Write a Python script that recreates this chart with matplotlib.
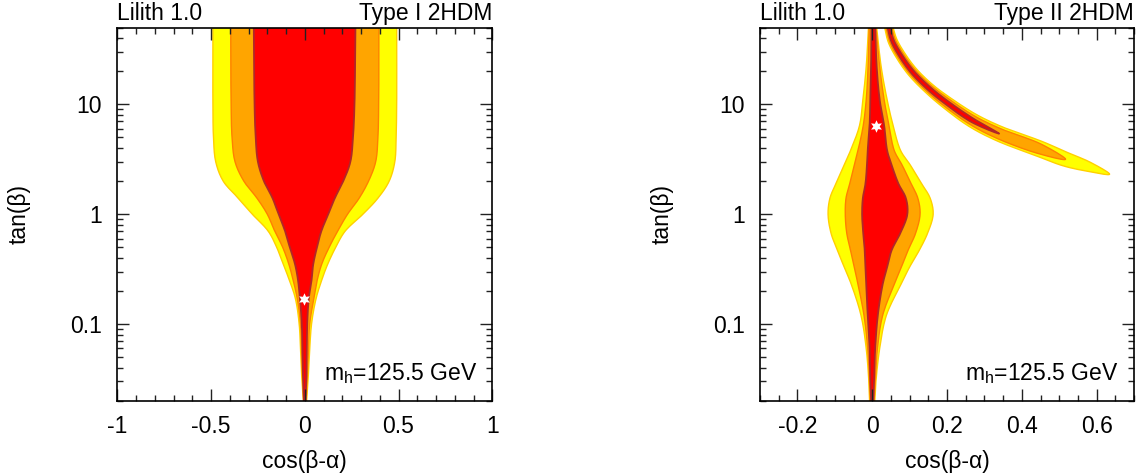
import numpy as np
import matplotlib
matplotlib.use('Agg')
import matplotlib.pyplot as plt
from matplotlib.ticker import FixedLocator, FixedFormatter, MultipleLocator, LogLocator, NullFormatter

plt.rcParams['font.family'] = ['Liberation Sans', 'DejaVu Sans']
plt.rcParams['axes.unicode_minus'] = False
plt.rcParams['mathtext.fontset'] = 'custom'
plt.rcParams['mathtext.rm'] = 'Liberation Sans'
plt.rcParams['mathtext.it'] = 'Liberation Sans:italic'

# ---------------- data ----------------
# Type I 2HDM: boundaries of the allowed regions, cos(beta-alpha) vs tan(beta)
t_I   = [0.02, 0.03, 0.05, 0.10, 0.17, 0.25, 0.35, 0.50, 0.70, 1.00, 1.40, 2.00, 3.00, 5.00, 10.0, 50.0]
yI_lo = [-0.008, -0.015, -0.021, -0.030, -0.050, -0.082, -0.115, -0.150, -0.195, -0.280, -0.355, -0.435, -0.475, -0.487, -0.490, -0.490]
yI_hi = [0.010, 0.017, 0.024, 0.036, 0.060, 0.090, 0.122, 0.165, 0.215, 0.310, 0.390, 0.450, 0.480, 0.487, 0.490, 0.490]
oI_lo = [-0.006, -0.011, -0.016, -0.023, -0.040, -0.062, -0.085, -0.118, -0.160, -0.200, -0.255, -0.325, -0.372, -0.388, -0.393, -0.395]
oI_hi = [0.007, 0.012, 0.018, 0.026, 0.048, 0.066, 0.090, 0.130, 0.175, 0.228, 0.290, 0.340, 0.378, 0.390, 0.394, 0.395]
rI_lo = [-0.005, -0.009, -0.012, -0.016, -0.026, -0.036, -0.052, -0.080, -0.105, -0.140, -0.172, -0.218, -0.250, -0.262, -0.268, -0.272]
rI_hi = [0.004, 0.008, 0.010, 0.013, 0.021, 0.036, 0.045, 0.065, 0.088, 0.125, 0.160, 0.205, 0.243, 0.257, 0.265, 0.270]
best_I = (-0.005, 0.17)

# Type II 2HDM: central lobe
t_II   = [0.02, 0.03, 0.06, 0.12, 0.23, 0.33, 0.47, 0.67, 1.0, 1.4, 1.9, 2.8, 3.8, 6.4, 11.0, 22.0, 50.0]
yII_lo = [-0.007, -0.009, -0.016, -0.030, -0.056, -0.075, -0.093, -0.110, -0.118, -0.113, -0.097, -0.075, -0.058, -0.034, -0.025, -0.016, -0.010]
yII_hi = [0.007, 0.010, 0.020, 0.038, 0.077, 0.100, 0.126, 0.148, 0.163, 0.155, 0.132, 0.102, 0.076, 0.056, 0.040, 0.024, 0.012]
oII_lo = [-0.005, -0.007, -0.012, -0.022, -0.038, -0.048, -0.058, -0.068, -0.072, -0.070, -0.060, -0.048, -0.038, -0.024, -0.016, -0.011, -0.008]
oII_hi = [0.005, 0.008, 0.014, 0.028, 0.059, 0.078, 0.096, 0.116, 0.128, 0.122, 0.104, 0.080, 0.059, 0.045, 0.032, 0.020, 0.010]
rII_lo = [-0.003, -0.005, -0.007, -0.012, -0.016, -0.018, -0.020, -0.024, -0.027, -0.025, -0.018, -0.014, -0.012, -0.007, -0.005, -0.003, -0.002]
rII_hi = [0.003, 0.005, 0.008, 0.015, 0.028, 0.040, 0.052, 0.075, 0.094, 0.090, 0.070, 0.052, 0.040, 0.032, 0.020, 0.012, 0.008]
best_II = (0.010, 6.4)

# Type II 2HDM: wrong-sign arc (inner = lower-left edge, outer = upper-right edge, top -> tip)
arcY_in_x  = [0.0324, 0.0430, 0.0660, 0.0981, 0.1434, 0.1878, 0.2588, 0.3315, 0.4386, 0.5110, 0.5754, 0.6347]
arcY_in_t  = [52.2, 36.9, 26.2, 18.4, 12.8, 9.49, 6.31, 4.69, 3.40, 2.755, 2.462, 2.311]
arcY_out_x = [0.0530, 0.0653, 0.0876, 0.1184, 0.1622, 0.2069, 0.2778, 0.3474, 0.4537, 0.5236, 0.5835, 0.6347]
arcY_out_t = [54.6, 39.6, 29.1, 21.05, 15.09, 11.61, 8.12, 6.255, 4.607, 3.629, 2.967, 2.311]
arcO_in_x  = [0.0357, 0.0467, 0.0696, 0.1014, 0.1464, 0.1906, 0.2618, 0.3339, 0.4413, 0.517]
arcO_in_t  = [52.6, 37.3, 26.6, 18.8, 13.13, 9.78, 6.56, 4.90, 3.59, 3.162]
arcO_out_x = [0.0496, 0.0616, 0.0840, 0.1151, 0.1592, 0.2040, 0.2748, 0.3450, 0.4510, 0.517]
arcO_out_t = [54.2, 39.1, 28.6, 20.6, 14.70, 11.26, 7.80, 5.98, 4.36, 3.162]
arcR_in_x  = [0.0393, 0.0504, 0.0730, 0.1046, 0.1494, 0.1942, 0.2655, 0.3395]
arcR_in_t  = [53.0, 37.7, 27.1, 19.19, 13.49, 10.15, 6.90, 5.416]
arcR_out_x = [0.0460, 0.0578, 0.0806, 0.1119, 0.1562, 0.2005, 0.2710, 0.3395]
arcR_out_t = [53.8, 38.6, 28.1, 20.15, 14.31, 10.85, 7.42, 5.416]

xlim_I, xlim_II = (-1.0, 1.0), (-0.3, 0.7)
ylim = (0.02, 50)

FACE = {'y': '#ffff00', 'o': '#ffa500', 'r': '#ff0000'}
EDGE = {'y': '#ffd000', 'o': '#ff8000', 'r': '#b02828'}
FS = 16.5


def smooth(xs, ts, xscale, n=10):
    """centripetal Catmull-Rom through the points, computed in (x, log t) display-like units"""
    P = np.column_stack([np.asarray(xs, float) * xscale, np.log10(np.asarray(ts, float)) * 110.0])
    if len(P) < 3:
        return np.asarray(xs, float), np.asarray(ts, float)
    P = np.vstack([2 * P[0] - P[1], P, 2 * P[-1] - P[-2]])
    out = []
    for i in range(1, len(P) - 2):
        p0, p1, p2, p3 = P[i - 1], P[i], P[i + 1], P[i + 2]

        def d(a, b):
            return max(np.hypot(*(b - a)) ** 0.5, 1e-6)
        s0 = 0.0
        s1 = s0 + d(p0, p1)
        s2 = s1 + d(p1, p2)
        s3 = s2 + d(p2, p3)
        for s in np.linspace(s1, s2, n, endpoint=False):
            A1 = (s1 - s) / (s1 - s0) * p0 + (s - s0) / (s1 - s0) * p1
            A2 = (s2 - s) / (s2 - s1) * p1 + (s - s1) / (s2 - s1) * p2
            A3 = (s3 - s) / (s3 - s2) * p2 + (s - s2) / (s3 - s2) * p3
            B1 = (s2 - s) / (s2 - s0) * A1 + (s - s0) / (s2 - s0) * A2
            B2 = (s3 - s) / (s3 - s1) * A2 + (s - s1) / (s3 - s1) * A3
            out.append((s2 - s) / (s2 - s1) * B1 + (s - s1) / (s2 - s1) * B2)
    out.append(P[-2])
    out = np.array(out)
    return out[:, 0] / xscale, 10 ** (out[:, 1] / 110.0)


def lobe(ax, t, lo, hi, key, xscale):
    xl, tl = smooth(lo, t, xscale)
    xr, tr = smooth(hi, t, xscale)
    ax.fill(np.concatenate([xl, xr[::-1]]), np.concatenate([tl, tr[::-1]]),
            facecolor=FACE[key], edgecolor='none', zorder=1)
    lw = 1.3 if key == 'r' else 1.0
    ax.plot(xl, tl, color=EDGE[key], lw=lw, zorder=1.5)
    ax.plot(xr, tr, color=EDGE[key], lw=lw, zorder=1.5)


def arc(ax, xin, tin, xout, tout, key, xscale):
    xs = list(xin) + list(xout[::-1])[1:]
    ts = list(tin) + list(tout[::-1])[1:]
    x, t = smooth(xs, ts, xscale)
    ax.fill(x, t, facecolor=FACE[key], edgecolor='none', zorder=1)
    lw = 1.2 if key == 'r' else 1.0
    ax.plot(x, t, color=EDGE[key], lw=lw, zorder=1.5)


def style(ax, xlim, xmaj, xmin, xlabels, left_title, right_title):
    ax.set_yscale('log')
    ax.set_xlim(*xlim)
    ax.set_ylim(*ylim)
    ax.xaxis.set_major_locator(FixedLocator(xmaj))
    ax.xaxis.set_major_formatter(FixedFormatter(xlabels))
    ax.xaxis.set_minor_locator(MultipleLocator(xmin))
    ax.yaxis.set_major_locator(FixedLocator([0.1, 1, 10]))
    ax.yaxis.set_major_formatter(FixedFormatter(['0.1', '1', '10']))
    ax.yaxis.set_minor_locator(LogLocator(base=10, subs=np.arange(2, 10), numticks=20))
    ax.yaxis.set_minor_formatter(NullFormatter())
    ax.tick_params(which='both', direction='in', top=True, right=True, color='#222222', width=1.0)
    ax.tick_params(which='major', length=8.5, labelsize=FS)
    ax.tick_params(which='major', axis='x', pad=10)
    ax.tick_params(which='major', axis='y', pad=11)
    ax.tick_params(which='minor', length=4.6)
    for sp in ax.spines.values():
        sp.set_linewidth(1.2)
    ax.set_xlabel('cos(β-α)', fontsize=FS)
    ax.set_ylabel('tan(β)', fontsize=FS)
    ax.xaxis.set_label_coords(0.5, -0.133)
    ax.yaxis.set_label_coords(-0.232, 0.5)
    ax.annotate(left_title, xy=(0, 1), xycoords='axes fraction', xytext=(0, 5.5),
                textcoords='offset points', ha='left', va='baseline', fontsize=FS)
    ax.annotate(right_title, xy=(1, 1), xycoords='axes fraction', xytext=(0, 5.5),
                textcoords='offset points', ha='right', va='baseline', fontsize=FS)
    ax.annotate(r'm$_\mathrm{h}$=125.5 GeV', xy=(1, 0), xycoords='axes fraction', xytext=(-11, 15),
                textcoords='offset points', ha='right', va='baseline', fontsize=FS)


fig = plt.figure(figsize=(11.43, 4.75), dpi=100)
axI = fig.add_axes([117.3 / 1143, 74.3 / 475, 375 / 1143, 373 / 475])
axII = fig.add_axes([760 / 1143, 74.3 / 475, 374 / 1143, 373 / 475])

sI = 187.5
lobe(axI, t_I, yI_lo, yI_hi, 'y', sI)
lobe(axI, t_I, oI_lo, oI_hi, 'o', sI)
lobe(axI, t_I, rI_lo, rI_hi, 'r', sI)
axI.plot([best_I[0]], [best_I[1]], marker=(6, 1, 0), color='white', markersize=9, mew=0, zorder=5)
style(axI, xlim_I, [-1, -0.5, 0, 0.5, 1], 0.1, ['-1', '-0.5', '0', '0.5', '1'], 'Lilith 1.0', 'Type I 2HDM')

sII = 375.0
lobe(axII, t_II, yII_lo, yII_hi, 'y', sII)
arc(axII, arcY_in_x, arcY_in_t, arcY_out_x, arcY_out_t, 'y', sII)
lobe(axII, t_II, oII_lo, oII_hi, 'o', sII)
arc(axII, arcO_in_x, arcO_in_t, arcO_out_x, arcO_out_t, 'o', sII)
lobe(axII, t_II, rII_lo, rII_hi, 'r', sII)
arc(axII, arcR_in_x, arcR_in_t, arcR_out_x, arcR_out_t, 'r', sII)
axII.plot([best_II[0]], [best_II[1]], marker=(6, 1, 0), color='white', markersize=9, mew=0, zorder=5)
style(axII, xlim_II, [-0.2, 0, 0.2, 0.4, 0.6], 0.05, ['-0.2', '0', '0.2', '0.4', '0.6'], 'Lilith 1.0', 'Type II 2HDM')

fig.savefig('out.png', dpi=100)
